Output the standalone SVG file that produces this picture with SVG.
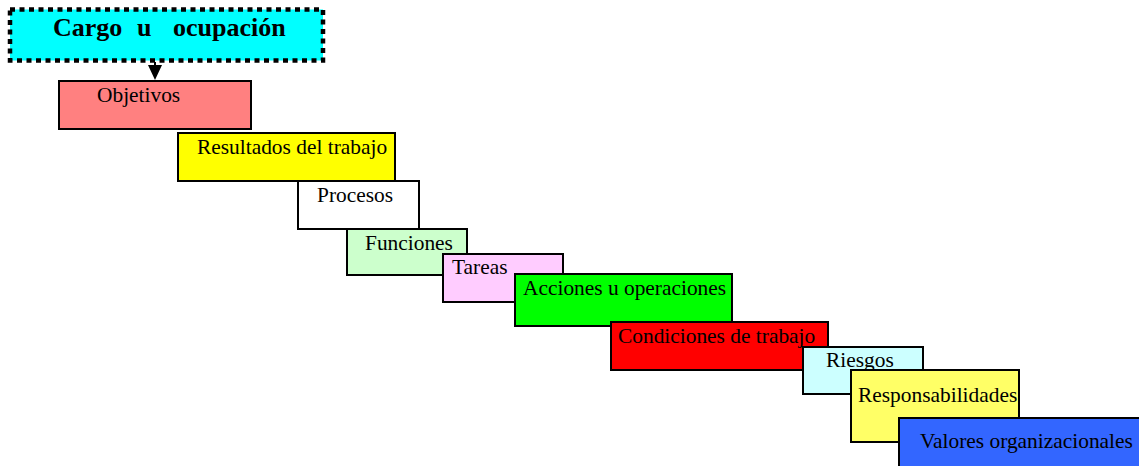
<svg xmlns="http://www.w3.org/2000/svg" width="1139" height="466" viewBox="0 0 1139 466">
  <style>
    .box { stroke: #000; stroke-width: 2; }
    .lbl { font-family: "Liberation Serif", "Times New Roman", serif; font-size: 21.4px; fill: #000; }
    .title { font-family: "Liberation Serif", "Times New Roman", serif; font-size: 26px; font-weight: bold; fill: #000; }
  </style>
  <rect width="1139" height="466" fill="#fff"/>

  <g id="cargo">
    <rect x="10" y="9.5" width="313" height="51" fill="#00ffff" stroke="#000" stroke-width="4.5" stroke-dasharray="5 4.5"/>
    <text class="title" x="53" y="36">Cargo</text>
    <text class="title" x="137" y="36">u</text>
    <text class="title" x="173" y="36">ocupación</text>
  </g>

  <!-- arrow from the title box down to the first step -->
  <g id="connectors">
    <line x1="155" y1="62" x2="155" y2="66" stroke="#000" stroke-width="2"/>
    <path d="M148,65 L162,65 L155,80 Z" fill="#000"/>
  </g>

  <g id="objetivos">
    <rect class="box" x="59" y="81" width="192" height="48" fill="#ff8080"/>
    <text class="lbl" x="97" y="102">Objetivos</text>
  </g>
  <g id="resultados">
    <rect class="box" x="178" y="133" width="217" height="48" fill="#ffff00"/>
    <text class="lbl" x="197" y="154">Resultados del trabajo</text>
  </g>
  <g id="procesos">
    <rect class="box" x="298" y="181" width="121" height="48" fill="#ffffff"/>
    <text class="lbl" x="317" y="202">Procesos</text>
  </g>
  <g id="funciones">
    <rect class="box" x="347" y="229" width="120" height="46" fill="#ccffcc"/>
    <text class="lbl" x="365" y="250">Funciones</text>
  </g>
  <g id="tareas">
    <rect class="box" x="443" y="254" width="120" height="48" fill="#ffccff"/>
    <text class="lbl" x="452" y="274">Tareas</text>
  </g>
  <g id="acciones">
    <rect class="box" x="515" y="274" width="217" height="52" fill="#00ff00"/>
    <text class="lbl" x="523" y="295">Acciones u operaciones</text>
  </g>
  <g id="condiciones">
    <rect class="box" x="611" y="322" width="217" height="48" fill="#ff0000"/>
    <text class="lbl" x="618" y="343">Condiciones de trabajo</text>
  </g>
  <g id="riesgos">
    <rect class="box" x="803" y="347" width="120" height="47" fill="#ccffff"/>
    <text class="lbl" x="826" y="367">Riesgos</text>
  </g>
  <g id="responsabilidades">
    <rect class="box" x="851" y="370" width="168" height="72" fill="#ffff66"/>
    <text class="lbl" x="858" y="402">Responsabilidades</text>
  </g>
  <g id="valores">
    <rect class="box" x="899" y="418" width="260" height="60" fill="#3366ff"/>
    <text class="lbl" x="920" y="448">Valores organizacionales</text>
  </g>
</svg>
